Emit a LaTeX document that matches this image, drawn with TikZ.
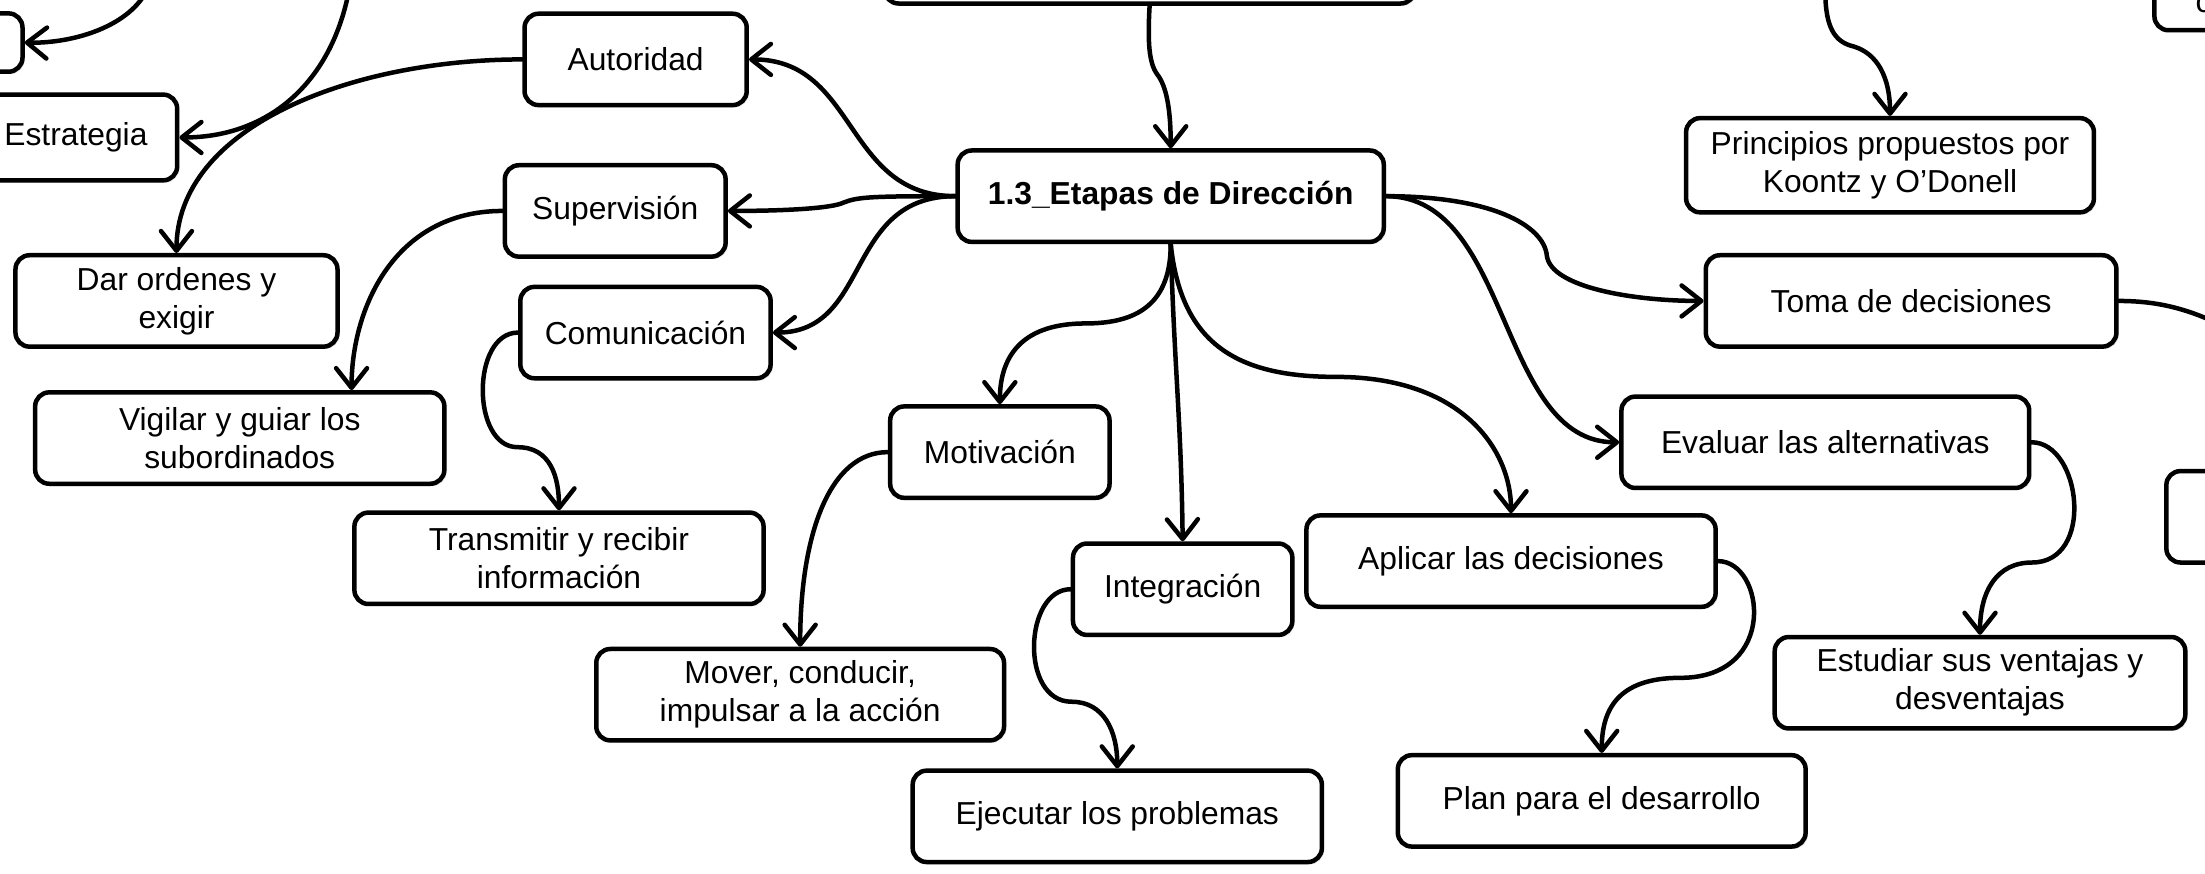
\documentclass[tikz,border=0pt]{standalone}
\usepackage{fontspec}
\setmainfont{Liberation Sans}
\usetikzlibrary{arrows.meta,shadows}

\tikzset{
	caja/.style={draw, line width=1.6pt, rounded corners=5pt, fill=white, align=center,
		minimum height=32.5pt, inner sep=2pt, font=\fontsize{11.3}{13.5}\selectfont,
		drop shadow={shadow xshift=0.8pt, shadow yshift=-0.8pt, opacity=0.2}},
	cajaB/.style={caja, font=\fontsize{11.3}{13.5}\selectfont\bfseries},
	flecha/.style={line width=1.6pt, line cap=round, -{Straight Barb[length=7pt, width=11pt, round]}},
	linea/.style={line width=1.6pt, line cap=round}
}

\begin{document}
\begin{tikzpicture}[x=0.5pt, y=-0.5pt]
			%%%%% START %%%%%
			\useasboundingbox (0,0) rectangle (1568,621.5);
			
			% cajas cortadas en el borde
			\node[caja, minimum width=38pt, minimum height=20.75pt] (cortaizq) at (-22,30.25) {};
			\node[caja, minimum width=188.5pt] (arriba) at (817.5,-30) {};
			\node[caja, minimum width=84pt] (arribader) at (1616,-11) {};
			\node[font=\fontsize{11.3}{13.5}\selectfont, inner sep=0pt, anchor=base west] (letra) at (1561,9) {c};
			\node[caja, minimum width=80pt] (derecha) at (1620.5,367.5) {};
			
			% lado izquierdo
			\node[caja, minimum width=72pt, minimum height=30.5pt] (estrategia) at (54,97.75) {Estrategia};
			\node[caja, minimum width=79pt] (autoridad) at (452,42.25) {Autoridad};
			\node[caja, minimum width=78.5pt] (supervision) at (437.5,150) {Supervisión};
			\node[caja, minimum width=89pt] (comunicacion) at (459,236.5) {Comunicación};
			\node[caja, minimum width=114.5pt] (dar) at (125.5,214) {Dar ordenes y\\exigir};
			\node[caja, minimum width=145.5pt] (vigilar) at (170.5,311.5) {Vigilar y guiar los\\subordinados};
			\node[caja, minimum width=145.5pt] (transmitir) at (397.5,397) {Transmitir y recibir\\información};
			
			% centro
			\node[cajaB, minimum width=151.5pt] (etapas) at (832.5,139.5) {1.3\_Etapas de Dirección};
			\node[caja, minimum width=78pt] (motivacion) at (711,321.5) {Motivación};
			\node[caja, minimum width=145pt] (mover) at (569,494) {Mover, conducir,\\impulsar a la acción};
			\node[caja, minimum width=78pt] (integracion) at (841,419) {Integración};
			\node[caja, minimum width=145.5pt] (ejecutar) at (794.5,580.5) {Ejecutar los problemas};
			\node[caja, minimum width=145.5pt] (aplicar) at (1074.5,399) {Aplicar las decisiones};
			\node[caja, minimum width=145pt] (plan) at (1139,569.5) {Plan para el desarrollo};
			
			% lado derecho
			\node[caja, minimum width=145pt, minimum height=33.5pt] (principios) at (1344,117.5) {Principios propuestos por\\Koontz y O’Donell};
			\node[caja, minimum width=146pt] (toma) at (1359,214) {Toma de decisiones};
			\node[caja, minimum width=145pt] (evaluar) at (1298,314.5) {Evaluar las alternativas};
			\node[caja, minimum width=146pt] (estudiar) at (1408,485.5) {Estudiar sus ventajas y\\desventajas};
			
			\coordinate (libre1) at (104,-6);
			\coordinate (libre2) at (248,-6);
			\coordinate (libre3) at (1298,-6);
			\coordinate (libre4) at (1575,229);
			
			% flechas
			\draw[flecha] (libre1) .. controls (90,20) and (50,31) .. (cortaizq.east);
			\draw[flecha] (libre2) .. controls (235,60) and (190,97.75) .. (estrategia.east);
			\draw[flecha] (arriba.south) .. controls (816,30) and (817,45) .. (823,53) .. controls (830,62) and (832.5,80) .. (etapas.north);
			\draw[flecha] (libre3) .. controls (1298,20) and (1305,30) .. (1318,33) .. controls (1335,38) and (1344,55) .. (principios.north);
			
			\draw[flecha] (etapas.west) .. controls (600,139.5) and (610,42.25) .. (autoridad.east);
			\draw[flecha] (etapas.west) .. controls (620,139.5) and (610,140) .. (600,144) .. controls (592,148) and (560,150) .. (supervision.east);
			\draw[flecha] (etapas.west) .. controls (600,139.5) and (620,236.5) .. (comunicacion.east);
			\draw[flecha] (autoridad.west) .. controls (250,42.25) and (125.5,90) .. (dar.north);
			\draw[flecha] (supervision.west) .. controls (280,150) and (250,220) .. ([xshift=39.75pt]vigilar.north);
			\draw[flecha] (comunicacion.west) .. controls (335,236.5) and (335,318) .. (368,318) .. controls (392,318) and (397.5,340) .. (transmitir.north);
			
			\draw[flecha] (etapas.south) .. controls (832.5,215) and (810,230) .. (772,230) .. controls (730,230) and (711,250) .. (motivacion.north);
			\draw[flecha] (motivacion.west) .. controls (590,321.5) and (569,380) .. (mover.north);
			\draw[flecha] (etapas.south) .. controls (835,260) and (840,300) .. (integracion.north);
			\draw[flecha] (integracion.west) .. controls (728,419) and (725,499) .. (762,499) .. controls (785,499) and (794.5,520) .. (ejecutar.north);
			\draw[flecha] (etapas.south) .. controls (840,245) and (880,268) .. (950,268) .. controls (1040,268) and (1074.5,320) .. (aplicar.north);
			\draw[flecha] (aplicar.east) .. controls (1255,399) and (1265,482) .. (1195,482) .. controls (1150,482) and (1139,505) .. (plan.north);
			
			\draw[flecha] (etapas.east) .. controls (1060,139.5) and (1098,160) .. (1100,182) .. controls (1103,204) and (1160,214) .. (toma.west);
			\draw[flecha] (etapas.east) .. controls (1075,139.5) and (1065,314.5) .. (evaluar.west);
			\draw[flecha] (evaluar.east) .. controls (1480,314.5) and (1490,400) .. (1445,400) .. controls (1420,400) and (1408,420) .. (estudiar.north);
			\draw[linea] (toma.east) .. controls (1535,214) and (1555,220) .. (libre4);
			
			%%%%% END %%%%%
\end{tikzpicture}
\end{document}
